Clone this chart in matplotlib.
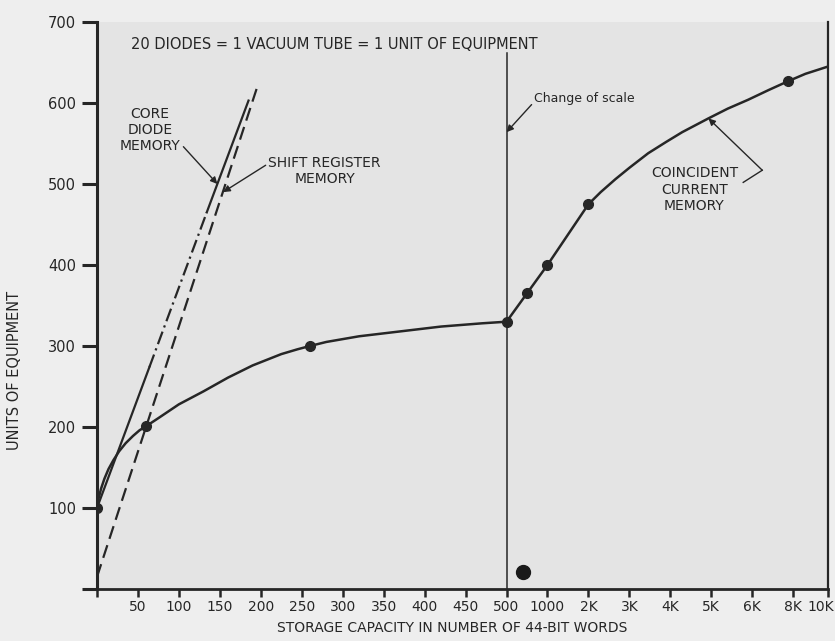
import matplotlib
matplotlib.use('Agg')
import matplotlib.pyplot as plt
import numpy as np

plt.rcParams['font.family'] = ['DejaVu Sans']

# x axis: piecewise scale, 0-500 linear then thousands
tick_vals = [0, 50, 100, 150, 200, 250, 300, 350, 400, 450, 500,
             1000, 2000, 3000, 4000, 5000, 6000, 8000, 10000]
tick_pos = [0, 1, 2, 3, 4, 5, 6, 7, 8, 9, 10, 11, 12, 13, 14, 15, 16, 17, 17.85]
tick_labels = ['', '50', '100', '150', '200', '250', '300', '350', '400', '450',
               '500', '1000', '2K', '3K', '4K', '5K', '6K', '8K', '10K']

# coincident current memory - curve
curve_x = [0, 2, 5, 9, 14, 20, 27, 35, 44, 52, 60, 75, 100, 130, 160, 190, 225,
           245, 260, 280, 320, 370, 420, 470, 500, 750, 1000, 2000, 2300, 2660,
           3000, 3460, 3900, 4290, 4930, 5400, 5900, 6800, 7760, 8700, 10000]
curve_y = [100, 112, 124, 136, 148, 159, 170, 180, 189, 196, 201, 211, 228, 244,
           261, 276, 290, 296, 300, 305, 312, 318, 324, 328, 330, 365, 400, 475,
           490, 506, 520, 538, 552, 564, 581, 593, 604, 616, 627, 636, 645]
pts_x = [0, 60, 260, 500, 750, 1000, 2000, 7760]
pts_y = [100, 201, 300, 330, 365, 400, 475, 627]

# core diode memory (straight line, solid / dash-dot / solid)
core_x = [0, 64, 134, 185]
core_y = [100, 274, 465, 603]

# shift register memory
shift_x = [0, 196]
shift_y = [15, 621]

fwd = lambda x: np.interp(x, tick_vals, tick_pos)
inv = lambda x: np.interp(x, tick_pos, tick_vals)

ink = '#262626'
fig = plt.figure(figsize=(8.35, 6.41), dpi=100)
fig.patch.set_facecolor('#eeeeee')
ax = fig.add_axes([97/835, 52/641, 731/835, 567/641])
ax.set_facecolor('#e4e4e4')
ax.set_xscale('function', functions=(fwd, inv))
ax.set_xlim(0, 10000)
ax.set_ylim(0, 700)

for s in ['left', 'bottom', 'right']:
    ax.spines[s].set_color(ink)
ax.spines['left'].set_linewidth(2.2)
ax.spines['bottom'].set_linewidth(2.0)
ax.spines['right'].set_linewidth(1.6)
ax.spines['top'].set_visible(False)

# last label (10K) sits on the right edge, drawn separately a bit to the left
ax.set_xticks(tick_vals)
ax.set_xticklabels(tick_labels[:-1] + [''])
ax.annotate(tick_labels[-1], xy=(tick_vals[-1], 0), xytext=(-5, -8),
            textcoords='offset points', ha='center', va='top', fontsize=10,
            color=ink, annotation_clip=False)
ax.set_yticks([0, 100, 200, 300, 400, 500, 600, 700])
ax.set_yticklabels(['', '100', '200', '300', '400', '500', '600', '700'])
ax.tick_params(axis='y', length=11, width=2.2, pad=4, labelsize=10.5, colors=ink)
ax.tick_params(axis='x', length=6, width=1.8, pad=2, labelsize=10, colors=ink)
ax.minorticks_off()

# main curve
ax.plot(curve_x, curve_y, color=ink, lw=1.8, zorder=3)
ax.plot(pts_x, pts_y, 'o', color=ink, ms=7, zorder=4)

# core diode line
ax.plot(core_x[:2], core_y[:2], color=ink, lw=1.6)
ax.plot(core_x[1:3], core_y[1:3], color=ink, lw=1.6, linestyle=(0, (6, 2, 1, 2)))
ax.plot(core_x[2:], core_y[2:], color=ink, lw=1.6)

# shift register line
ax.plot(shift_x, shift_y, color=ink, lw=1.6, linestyle=(0, (6, 3)))

# change of scale line
ax.plot([500, 500], [0, 662], color=ink, lw=1.1)

# stray dot in the scan
ax.plot([705], [21], 'o', color='#1a1a1a', ms=10)

ax.text(41, 672, '20 DIODES = 1 VACUUM TUBE = 1 UNIT OF EQUIPMENT',
        fontsize=10.5, color=ink, ha='left', va='center')

arrow = dict(arrowstyle='-|>', color=ink, lw=1.0, mutation_scale=10, shrinkA=0, shrinkB=0)

ax.annotate('CORE\nDIODE\nMEMORY', xy=(147, 500), xytext=(65, 567),
            fontsize=10, color=ink, ha='center', va='center', multialignment='center',
            arrowprops=dict(arrow, relpos=(1.0, 0.2)))
ax.annotate('SHIFT REGISTER\nMEMORY', xy=(154, 490), xytext=(278, 516),
            fontsize=10, color=ink, ha='center', va='center', multialignment='center',
            arrowprops=dict(arrow, relpos=(0.0, 0.75)))
ax.annotate('Change of scale', xy=(500, 564), xytext=(840, 605),
            fontsize=9, color=ink, ha='left', va='center',
            arrowprops=dict(arrow, relpos=(0.0, 0.3)))
ax.text(4590, 493, 'COINCIDENT\nCURRENT\nMEMORY', fontsize=10, color=ink,
        ha='center', va='center', multialignment='center')
ax.plot([5780, 6490], [502, 517], color=ink, lw=1.0)
ax.annotate('', xy=(4930, 581), xytext=(6490, 517), arrowprops=arrow)

fig.text(15/835, 1 - 370/641, 'UNITS OF EQUIPMENT', rotation=90, fontsize=10.5,
         color=ink, ha='center', va='center')
fig.text(452/835, 1 - 628/641, 'STORAGE CAPACITY IN NUMBER OF 44-BIT WORDS',
         fontsize=10, color=ink, ha='center', va='center')

fig.savefig('out.png', dpi=100, facecolor=fig.get_facecolor())
